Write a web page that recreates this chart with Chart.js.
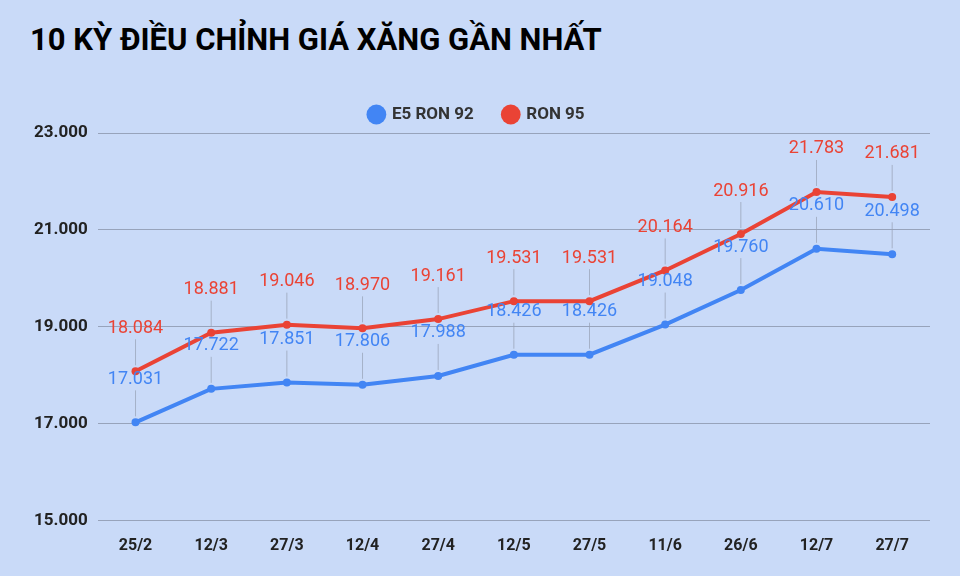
<!DOCTYPE html>
<html><head><meta charset="utf-8">
<script src="https://cdn.jsdelivr.net/npm/chart.js@4"></script>
<style>html,body{margin:0;padding:0;background:#c9daf8;}#w{position:relative;width:960px;height:576px;}
h1{position:absolute;left:30px;top:21px;margin:0;font:bold 31px Roboto,"Noto Sans",sans-serif;color:#000;}
canvas{position:absolute;left:0;top:0;}</style></head>
<body><div id="w"><h1>10 KỲ ĐIỀU CHỈNH GIÁ XĂNG GẦN NHẤT</h1><canvas id="c" width="960" height="576"></canvas></div>
<script>
const categories=["25/2","12/3","27/3","12/4","27/4","12/5","27/5","11/6","26/6","12/7","27/7"];
const e5=[17031,17722,17851,17806,17988,18426,18426,19048,19760,20610,20498];
const ron95=[18084,18881,19046,18970,19161,19531,19531,20164,20916,21783,21681];
const fmt=v=>v.toLocaleString('de-DE');
const labelPlugin={id:'lbl',afterDatasetsDraw(ch){const ctx=ch.ctx;ctx.save();
ch.data.datasets.forEach((ds,i)=>{const m=ch.getDatasetMeta(i);m.data.forEach((p,j)=>{
const ly=p.y-36;ctx.strokeStyle='rgba(150,160,180,0.7)';ctx.lineWidth=1;ctx.beginPath();ctx.moveTo(p.x,p.y-6);ctx.lineTo(p.x,ly+4);ctx.stroke();
ctx.fillStyle=ds.borderColor;ctx.font='18px Roboto,sans-serif';ctx.textAlign='center';ctx.textBaseline='bottom';
ctx.fillText(fmt(ds.data[j]),p.x,ly+2);});});ctx.restore();}};
new Chart(document.getElementById('c'),{type:'line',data:{labels:categories,datasets:[
{label:'E5 RON 92',data:e5,borderColor:'#4285f4',backgroundColor:'#4285f4',borderWidth:4,pointRadius:4,pointBorderWidth:0,pointBackgroundColor:'#4285f4',tension:0},
{label:'RON 95',data:ron95,borderColor:'#ea4335',backgroundColor:'#ea4335',borderWidth:4,pointRadius:4,pointBorderWidth:0,pointBackgroundColor:'#ea4335',tension:0}]},
options:{responsive:false,animation:false,layout:{padding:{left:24,right:30,top:76,bottom:12}},
plugins:{legend:{position:'top',labels:{usePointStyle:true,pointStyle:'circle',boxWidth:14,boxHeight:14,padding:30,color:'#333',font:{size:17,weight:'bold',family:'Roboto'}}},tooltip:{enabled:false}},
scales:{x:{offset:true,grid:{display:false},border:{display:false},ticks:{color:'#222',font:{size:16,weight:'bold',family:'Roboto'},padding:8}},
y:{min:15000,max:23000,ticks:{stepSize:2000,callback:v=>fmt(v),color:'#222',font:{size:17,weight:'bold',family:'Roboto'},padding:10},grid:{color:'#97a3bb',drawTicks:false},border:{display:false}}}},
plugins:[labelPlugin]});
</script></body></html>
